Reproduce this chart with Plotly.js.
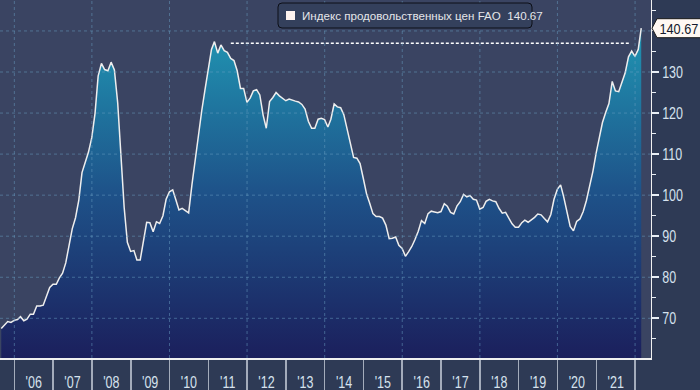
<!DOCTYPE html>
<html><head><meta charset="utf-8">
<script src="https://cdn.plot.ly/plotly-3.0.1.min.js"></script>
<style>html,body{margin:0;padding:0;background:#2e3a55;} #chart{width:700px;height:390px;}</style>
</head><body><div id="chart"></div>
<script>
// FAO Food Price Index, monthly (month-end), Aug 2005 – Feb 2022
const startYear = 2005, startMonth = 8;
const v2005 = [67.5, 68.3, 69.2, 69.0, 69.5];
const v2006 = [69.7, 70.4, 69.4, 69.8, 71.0, 71.0, 73.0, 73.0, 73.2, 75.3, 77.5, 78.3];
const v2007 = [78.3, 79.8, 81.0, 83.5, 87.5, 91.8, 94.5, 98.8, 105.5, 107.8, 110.5, 114.0];
const v2008 = [120.0, 129.0, 132.1, 130.6, 130.3, 132.4, 130.5, 122.5, 110.5, 97.0, 88.5, 86.3];
const v2009 = [86.5, 84.2, 84.2, 88.5, 93.4, 93.3, 91.1, 93.5, 93.1, 95.0, 99.0, 100.8];
const v2010 = [101.3, 99.0, 96.4, 96.8, 96.2, 95.7, 102.5, 108.6, 115.0, 120.5, 125.5, 131.0];
const v2011 = [135.5, 137.4, 134.6, 136.6, 135.2, 134.8, 133.3, 132.8, 130.3, 126.0, 126.0, 122.6];
const v2012 = [123.7, 125.4, 125.7, 124.4, 119.5, 116.3, 122.8, 123.8, 125.0, 124.2, 123.6, 123.0];
const v2013 = [123.4, 123.1, 122.9, 122.7, 122.1, 121.0, 118.0, 116.3, 116.3, 118.5, 118.7, 118.4];
const v2014 = [116.6, 118.5, 122.2, 121.5, 121.3, 119.6, 116.2, 112.3, 109.2, 109.0, 107.7, 104.0];
const v2015 = [100.2, 98.1, 95.5, 94.8, 94.8, 94.4, 92.7, 89.4, 89.5, 89.8, 87.8, 87.0];
const v2016 = [85.1, 86.2, 87.5, 89.2, 91.2, 93.8, 93.1, 95.5, 96.1, 95.9, 95.7, 96.0];
const v2017 = [97.9, 97.3, 95.8, 95.4, 97.4, 98.4, 100.2, 99.6, 99.9, 99.0, 98.8, 96.6];
const v2018 = [97.0, 98.5, 99.0, 98.6, 98.4, 96.8, 95.6, 95.8, 94.3, 93.0, 92.2, 92.2];
const v2019 = [93.3, 93.9, 93.4, 93.9, 94.6, 95.4, 95.2, 94.3, 93.5, 95.3, 99.0, 101.4];
const v2020 = [102.5, 99.6, 95.5, 92.4, 91.3, 93.6, 94.2, 96.0, 98.7, 102.3, 105.8, 110.3];
const v2021 = [114.7, 117.7, 120.2, 122.3, 127.7, 125.4, 125.2, 127.8, 129.8, 133.7, 135.1, 133.8];
const v2022 = [135.5, 140.67];

const seriesName = 'Индекс продовольственных цен FAO';
const lastValue = 140.67;
const refLevel = 137.0;
const refDates = ['2011-08-01', '2021-11-04'];
const yTickVals = [70, 80, 90, 100, 110, 120, 130];
const gridYVals = [70, 80, 90, 100, 110, 120, 130, 140];
const gridYears = ['2006-01-01','2008-01-01','2010-01-01','2012-01-01','2014-01-01','2016-01-01','2018-01-01','2020-01-01','2022-01-01'];

const values = [].concat(v2005, v2006, v2007, v2008, v2009, v2010, v2011, v2012, v2013,
  v2014, v2015, v2016, v2017, v2018, v2019, v2020, v2021, v2022);
const dates = values.map((_, i) => {
  const mIdx = startMonth - 1 + i;
  const y = startYear + Math.floor(mIdx / 12);
  const m = mIdx % 12 + 1;
  return new Date(Date.UTC(y, m, 0)).toISOString().slice(0, 10);
});

const gridStyle = {color: 'rgba(105,160,195,0.5)', width: 1, dash: '3px,3px'};
const shapes = [];
gridYVals.forEach(v => shapes.push({type: 'line', xref: 'paper', x0: 0, x1: 1, yref: 'y', y0: v, y1: v, line: gridStyle, layer: 'above'}));
gridYears.forEach(d => shapes.push({type: 'line', xref: 'x', x0: d, x1: d, yref: 'paper', y0: 0, y1: 1, line: gridStyle, layer: 'above'}));

// legend box (rounded), square marker
shapes.push({type: 'path', xref: 'paper', xsizemode: 'pixel', xanchor: 0, yref: 'paper', ysizemode: 'pixel', yanchor: 1,
  path: 'M 282 -3 L 528 -3 Q 532 -3 532 -7 L 532 -24 Q 532 -28 528 -28 L 282 -28 Q 278 -28 278 -24 L 278 -7 Q 278 -3 282 -3 Z',
  fillcolor: '#34405c', line: {color: '#0c0e16', width: 1}, layer: 'above'});
shapes.push({type: 'path', xref: 'paper', xsizemode: 'pixel', xanchor: 0, yref: 'paper', ysizemode: 'pixel', yanchor: 1,
  path: 'M 286 -11 L 295 -11 L 295 -20 L 286 -20 Z', fillcolor: '#fdf2ee', line: {width: 0}, layer: 'above'});
// last value callout
shapes.push({type: 'path', xref: 'paper', xsizemode: 'pixel', xanchor: 1, yref: 'y', ysizemode: 'pixel', yanchor: lastValue,
  path: 'M 1 0 L 6 9.5 L 52 9.5 L 52 -9.5 L 6 -9.5 Z', fillcolor: '#fff8f2', line: {color: '#1a1a1a', width: 1}, layer: 'above'});

const tickFont = {family: '"Liberation Sans", Arial, sans-serif', size: 16, color: '#d6e2ee'};

const traces = [
  {x: dates, y: values, type: 'scatter', mode: 'lines', fill: 'tozeroy',
   line: {color: '#eeeeee', width: 1.5},
   fillgradient: {type: 'vertical', start: 60, stop: 141,
     colorscale: [[0, '#1b1f5c'], [0.5, '#1e5289'], [1, '#2096b3']]},
   name: seriesName, showlegend: false, hoverinfo: 'x+y'},
  {x: refDates, y: [refLevel, refLevel], type: 'scatter', mode: 'lines',
   line: {color: '#ffffff', width: 1.5, dash: '3px,2px'}, showlegend: false, hoverinfo: 'skip'}
];

const layout = {
  width: 700, height: 390,
  margin: {l: 0, r: 49, t: 0, b: 32, autoexpand: false},
  paper_bgcolor: '#2e3a55', plot_bgcolor: '#3a4462',
  showlegend: false,
  xaxis: {type: 'date', range: ['2005-08-19', '2022-05-31'],
    showgrid: false, zeroline: false,
    dtick: 'M12', tick0: '2006-01-01', tickformat: "'%y", ticklabelmode: 'period',
    ticks: 'outside', ticklen: 32, tickwidth: 1.5, tickcolor: '#a4acbb',
    ticklabelstandoff: -23,
    showline: true, linecolor: '#f0f0f0', linewidth: 1.5,
    tickfont: tickFont, automargin: false},
  yaxis: {range: [60.33, 147.54], side: 'right', showgrid: false, zeroline: false,
    tickmode: 'array', tickvals: yTickVals,
    ticks: 'outside', ticklen: 7, tickwidth: 2, tickcolor: '#e8eef5',
    minor: {dtick: 5, tick0: 0, ticks: 'outside', ticklen: 4, tickwidth: 1, tickcolor: '#e8eef5', showgrid: false},
    showline: true, linecolor: '#f0f0f0', linewidth: 1,
    tickfont: tickFont, automargin: false},
  shapes: shapes,
  annotations: [
    {xref: 'paper', x: 300 / 651, xanchor: 'left', yref: 'paper', y: 1 - 15.5 / 358, yanchor: 'middle',
     text: seriesName + '\u00a0\u00a0' + lastValue.toFixed(2), showarrow: false,
     font: {family: '"Liberation Sans", Arial, sans-serif', size: 11.6, color: '#e4e6ea'}},
    {xref: 'paper', x: 1, xanchor: 'center', xshift: 28, yref: 'y', y: lastValue, yanchor: 'middle',
     text: lastValue.toFixed(2), showarrow: false, borderpad: 0,
     font: {family: tickFont.family, size: 15, color: '#151a2c'}}
  ]
};

// condense the tall, narrow lettering of the original (axis labels and value callout)
function condense() {
  const gd = document.getElementById('chart');
  const label = lastValue.toFixed(2);
  gd.querySelectorAll('text').forEach(t => {
    const isTick = t.closest('.xtick, .ytick');
    const isCallout = t.textContent === label;
    if (!(isTick || isCallout) || t.getAttribute('textLength')) return;
    const len = t.getComputedTextLength();
    if (len > 0) {
      t.setAttribute('textLength', (len * (isCallout ? 0.85 : 0.78)).toFixed(1));
      t.setAttribute('lengthAdjust', 'spacingAndGlyphs');
    }
  });
}

Plotly.newPlot('chart', traces, layout, {displayModeBar: false, staticPlot: true}).then(() => {
  condense();
  setTimeout(condense, 50);
});
</script>
</body></html>
